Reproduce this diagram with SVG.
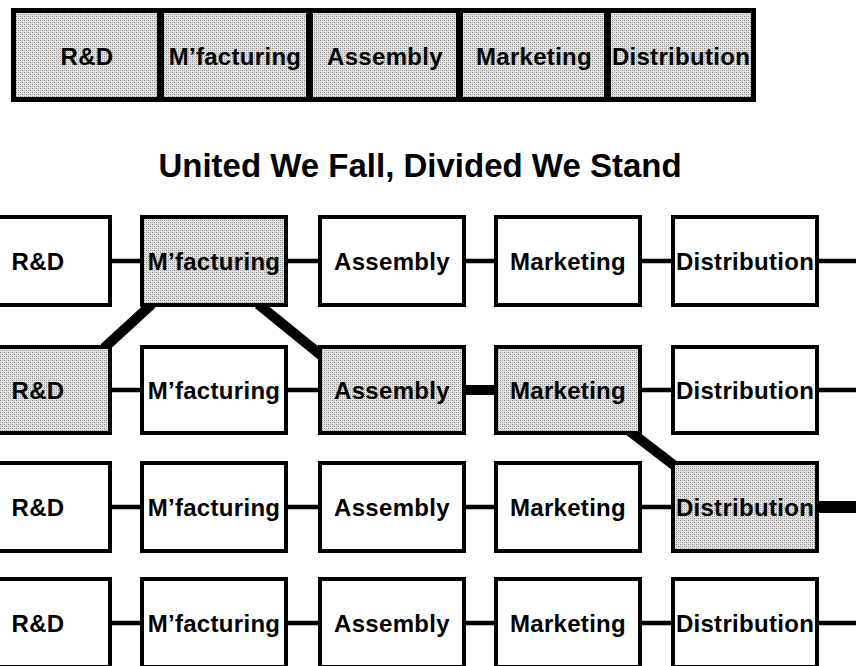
<svg xmlns="http://www.w3.org/2000/svg" width="856" height="666" viewBox="0 0 856 666">
<defs>
<pattern id="stip" width="4" height="4" patternUnits="userSpaceOnUse">
<rect width="4" height="4" fill="#e2e2e2"/>
<rect x="0" y="0" width="1" height="1" fill="#8a8a8a"/>
<rect x="2" y="2" width="1" height="1" fill="#8a8a8a"/>
<rect x="2" y="0" width="1" height="1" fill="#b0b0b0"/>
<rect x="0" y="2" width="1" height="1" fill="#b0b0b0"/>
</pattern>
</defs>
<style>
.box{fill:#fff;stroke:#000;stroke-width:4}
.sh{fill:url(#stip)}
.lbl{font-family:"Liberation Sans",Arial,sans-serif;font-weight:bold;font-size:24px;letter-spacing:0.3px;text-anchor:middle;fill:#000}
.title{font-family:"Liberation Sans",Arial,sans-serif;font-weight:bold;font-size:33px;text-anchor:middle;fill:#000}
.thin{stroke:#000;stroke-width:4.5;fill:none}
.thick{stroke:#000;stroke-width:10;fill:none}
</style>
<rect width="856" height="666" fill="#fff"/>

<g id="topbar">
<rect x="13.5" y="10.5" width="740" height="89" fill="url(#stip)" stroke="#000" stroke-width="5"/>
<rect x="157" y="8" width="7" height="94" fill="#000"/>
<rect x="306" y="8" width="7" height="94" fill="#000"/>
<rect x="456" y="8" width="7" height="94" fill="#000"/>
<rect x="604" y="8" width="7" height="94" fill="#000"/>
<text class="lbl" x="87" y="65">R&amp;D</text>
<text class="lbl" x="235" y="65">M’facturing</text>
<text class="lbl" x="385" y="65">Assembly</text>
<text class="lbl" x="534" y="65">Marketing</text>
<text class="lbl" x="681" y="65">Distribution</text>
</g>

<g id="title"><text class="title" x="420" y="177">United We Fall, Divided We Stand</text></g>

<g id="connectors">
<line class="thin" x1="110" y1="261" x2="142" y2="261"/>
<line class="thin" x1="286" y1="261" x2="320" y2="261"/>
<line class="thin" x1="464" y1="261" x2="496" y2="261"/>
<line class="thin" x1="640" y1="261" x2="673" y2="261"/>
<line class="thin" x1="817" y1="261" x2="856" y2="261"/>

<line class="thin" x1="110" y1="390" x2="142" y2="390"/>
<line class="thin" x1="286" y1="390" x2="320" y2="390"/>
<line class="thick" x1="464" y1="390" x2="496" y2="390"/>
<line class="thin" x1="640" y1="390" x2="673" y2="390"/>
<line class="thin" x1="817" y1="390" x2="856" y2="390"/>

<line class="thin" x1="110" y1="507" x2="142" y2="507"/>
<line class="thin" x1="286" y1="507" x2="320" y2="507"/>
<line class="thin" x1="464" y1="507" x2="496" y2="507"/>
<line class="thin" x1="640" y1="507" x2="673" y2="507"/>
<line stroke="#000" stroke-width="12" x1="817" y1="507" x2="856" y2="507"/>

<line class="thin" x1="110" y1="623" x2="142" y2="623"/>
<line class="thin" x1="286" y1="623" x2="320" y2="623"/>
<line class="thin" x1="464" y1="623" x2="496" y2="623"/>
<line class="thin" x1="640" y1="623" x2="673" y2="623"/>
<line class="thin" x1="817" y1="623" x2="856" y2="623"/>

<line class="thick" x1="152" y1="304" x2="104" y2="348"/>
<line class="thick" x1="258" y1="304" x2="322" y2="356"/>
<line class="thick" x1="628" y1="430" x2="675" y2="466"/>
</g>

<g id="r1-rd"><rect class="box" x="-34" y="217" width="144" height="88"/><text class="lbl" x="38" y="270">R&amp;D</text></g>
<g id="r1-mf"><rect class="box sh" x="142" y="217" width="144" height="88"/><text class="lbl" x="214" y="270">M’facturing</text></g>
<g id="r1-as"><rect class="box" x="320" y="217" width="144" height="88"/><text class="lbl" x="392" y="270">Assembly</text></g>
<g id="r1-mk"><rect class="box" x="496" y="217" width="144" height="88"/><text class="lbl" x="568" y="270">Marketing</text></g>
<g id="r1-di"><rect class="box" x="673" y="217" width="144" height="88"/><text class="lbl" x="745" y="270">Distribution</text></g>

<g id="r2-rd"><rect class="box sh" x="-34" y="347" width="144" height="86"/><text class="lbl" x="38" y="399">R&amp;D</text></g>
<g id="r2-mf"><rect class="box" x="142" y="347" width="144" height="86"/><text class="lbl" x="214" y="399">M’facturing</text></g>
<g id="r2-as"><rect class="box sh" x="320" y="347" width="144" height="86"/><text class="lbl" x="392" y="399">Assembly</text></g>
<g id="r2-mk"><rect class="box sh" x="496" y="347" width="144" height="86"/><text class="lbl" x="568" y="399">Marketing</text></g>
<g id="r2-di"><rect class="box" x="673" y="347" width="144" height="86"/><text class="lbl" x="745" y="399">Distribution</text></g>

<g id="r3-rd"><rect class="box" x="-34" y="463" width="144" height="88"/><text class="lbl" x="38" y="516">R&amp;D</text></g>
<g id="r3-mf"><rect class="box" x="142" y="463" width="144" height="88"/><text class="lbl" x="214" y="516">M’facturing</text></g>
<g id="r3-as"><rect class="box" x="320" y="463" width="144" height="88"/><text class="lbl" x="392" y="516">Assembly</text></g>
<g id="r3-mk"><rect class="box" x="496" y="463" width="144" height="88"/><text class="lbl" x="568" y="516">Marketing</text></g>
<g id="r3-di"><rect class="box sh" x="673" y="463" width="144" height="88"/><text class="lbl" x="745" y="516">Distribution</text></g>

<g id="r4-rd"><rect class="box" x="-34" y="579" width="144" height="88"/><text class="lbl" x="38" y="632">R&amp;D</text></g>
<g id="r4-mf"><rect class="box" x="142" y="579" width="144" height="88"/><text class="lbl" x="214" y="632">M’facturing</text></g>
<g id="r4-as"><rect class="box" x="320" y="579" width="144" height="88"/><text class="lbl" x="392" y="632">Assembly</text></g>
<g id="r4-mk"><rect class="box" x="496" y="579" width="144" height="88"/><text class="lbl" x="568" y="632">Marketing</text></g>
<g id="r4-di"><rect class="box" x="673" y="579" width="144" height="88"/><text class="lbl" x="745" y="632">Distribution</text></g>
</svg>
